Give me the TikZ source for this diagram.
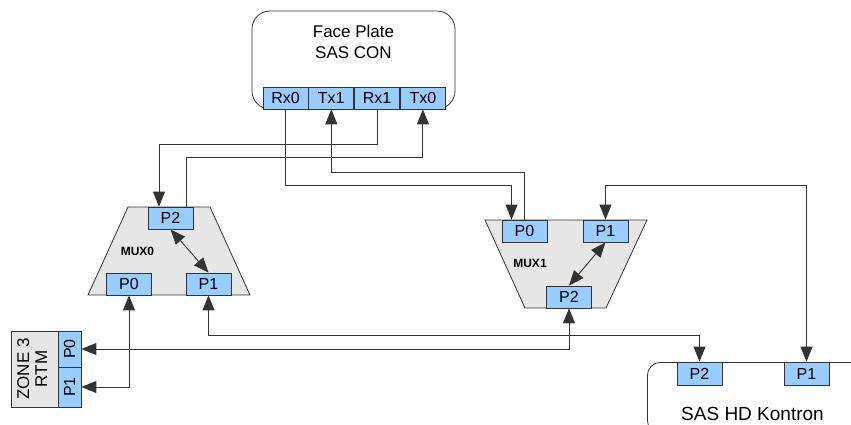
\documentclass[tikz,border=0pt]{standalone}
\usepackage{fontspec}
\setmainfont{Liberation Sans}
\usetikzlibrary{arrows.meta,positioning}
\definecolor{portblue}{HTML}{99CCFF}
\definecolor{muxgray}{HTML}{E6E6E6}
\definecolor{edge}{HTML}{333333}
\begin{document}
\begin{tikzpicture}[x=1pt,y=-1pt,
  p/.style={rectangle,draw=edge,fill=portblue,line width=0.8pt,minimum width=45pt,minimum height=22pt,inner sep=0pt,font=\fontsize{16}{18}\selectfont},
  box/.style={rectangle,draw=edge,line width=0.8pt,rounded corners=18pt,inner sep=0pt},
  mux/.style={draw=edge,fill=muxgray,line width=0.8pt},
  muxlbl/.style={inner sep=0pt,font=\bfseries\fontsize{12}{14}\selectfont},
  lbl/.style={inner sep=0pt,font=\fontsize{17}{21}\selectfont,align=center},
  w/.style={draw=edge,line width=0.9pt,-{Triangle[length=15pt,width=12pt]}},
  ww/.style={draw=edge,line width=0.9pt,{Triangle[length=15pt,width=12pt]}-{Triangle[length=15pt,width=12pt]}}]
\useasboundingbox (0,0) rectangle (851,425);
\clip (0,0) rectangle (851,425);

\node[box,minimum width=203pt,minimum height=98pt] (fp) at (353.5,60) {};
\node[lbl] (fpt) at (353.5,41.5) {Face Plate\\SAS CON};
\node[p] (rx0) at (285.5,98) {Rx0};
\node[p,right=0pt of rx0] (tx1) {Tx1};
\node[p,right=0pt of tx1] (rx1) {Rx1};
\node[p,right=0pt of rx1] (tx0) {Tx0};

\path[mux] (128,207) -- (210,207) -- (250,295) -- (88,295) -- cycle;
\node[muxlbl] (m0) at (137.5,251) {MUX0};
\node[p] (m0p2) at (170.5,218) {P2};
\node[p] (m0p0) at (129,284) {P0};
\node[p] (m0p1) at (208.5,284) {P1};

\path[mux] (485,220) -- (647,220) -- (606,308) -- (525,308) -- cycle;
\node[muxlbl] (m1) at (530,263) {MUX1};
\node[p] (m1p0) at (524.5,231) {P0};
\node[p] (m1p1) at (605.5,231) {P1};
\node[p] (m1p2) at (569,297) {P2};

\node[rectangle,draw=edge,fill=muxgray,line width=0.8pt,inner sep=0pt,minimum width=47pt,minimum height=76pt,font=\fontsize{17}{18}\selectfont] (zone) at (34.5,369) {\rotatebox{90}{\begin{tabular}{@{}c@{}}ZONE 3\\RTM\end{tabular}}};
\node[p,minimum width=23pt,minimum height=36pt] (zp0) at (69.5,349) {\rotatebox{90}{P0}};
\node[p,minimum width=23pt,minimum height=40pt] (zp1) at (69.5,387) {\rotatebox{90}{P1}};

\node[box,rounded corners=13pt,minimum width=253pt,minimum height=71pt,anchor=north west] (hd) at (647,362) {};
\node[inner sep=0pt,anchor=base,font=\fontsize{19}{22}\selectfont] (hdt) at (752.5,420) {SAS HD Kontron};
\node[p,minimum height=23pt] (kp2) at (699.5,373.5) {P2};
\node[p,minimum height=23pt] (kp1) at (806.5,373.5) {P1};

\draw[w] (rx0.south) -- ++(0,76) -| ([xshift=-13pt]m1p0.north);
\draw[w] (m1p0.north) -- ++(0,-47) -| (tx1.south);
\draw[w] (rx1.south) -- ++(0,35) -| ([xshift=-11.5pt]m0p2.north);
\draw[w] ([xshift=15.5pt]m0p2.north) -- ++(0,-49) -| (tx0.south);
\draw[ww] (m0p2.south) -- (m0p1.north);
\draw[ww] (m1p1.south) -- (m1p2.north);
\draw[ww] (m1p1.north) -- ++(0,-34) -| (kp1.north);
\draw[ww] (m0p1.south) -- ++(0,40) -| (kp2.north);
\draw[ww] (m0p0.south) |- (zp1.east);
\draw[ww] (zp0.east) -| (m1p2.south);
\end{tikzpicture}
\end{document}
